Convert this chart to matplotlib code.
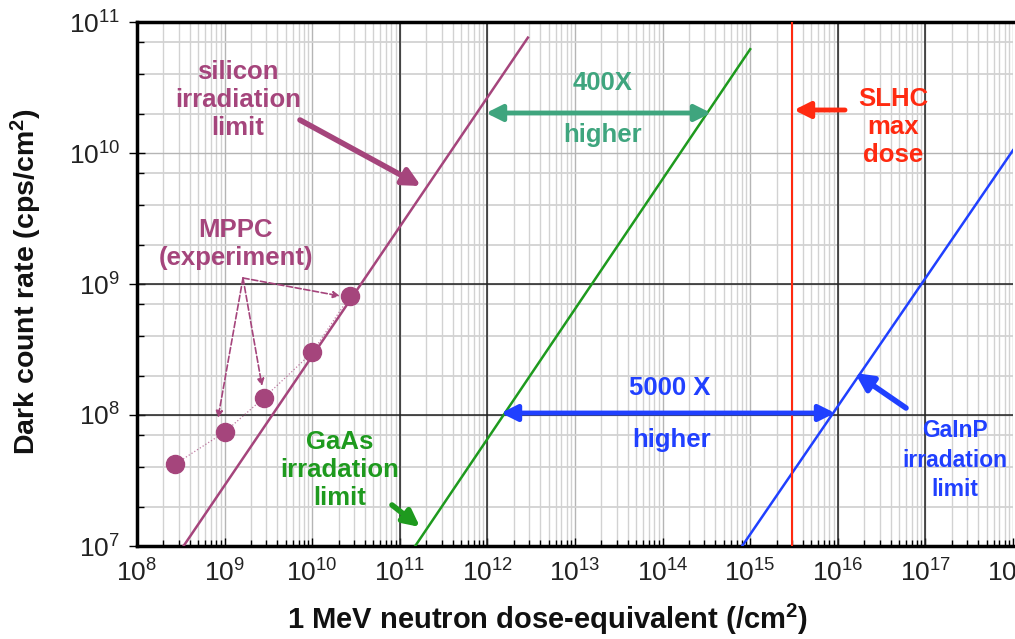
import numpy as np
import matplotlib
matplotlib.use('Agg')
import matplotlib.pyplot as plt
from matplotlib import font_manager
from matplotlib.ticker import LogLocator, FuncFormatter, NullFormatter, FixedLocator

names = {f.name for f in font_manager.fontManager.ttflist}
base = 'Liberation Sans' if 'Liberation Sans' in names else 'DejaVu Sans'
plt.rcParams['font.family'] = [base, 'DejaVu Sans']
plt.rcParams['mathtext.fontset'] = 'custom'
plt.rcParams['mathtext.rm'] = base
plt.rcParams['mathtext.bf'] = base + ':bold'

# ---------------- data ----------------
si_dose = [3.4e8, 2.9e12]
si_rate = [1.0e7, 7.6e10]
gaas_dose = [1.5e11, 1.0e15]
gaas_rate = [1.0e7, 6.2e10]
gainp_dose = [8.1e14, 1.0e18]
gainp_rate = [1.0e7, 1.05e10]
slhc_dose = 3.0e15
mppc_dose = [2.7e8, 1.0e9, 2.8e9, 1.0e10, 2.7e10]
mppc_rate = [4.2e7, 7.4e7, 1.35e8, 3.0e8, 8.1e8]
x_decades = list(range(8, 19))
y_decades = list(range(7, 12))

# ---------------- colours ----------------
c_si = '#A5457C'
c_gaas = '#1E9A1E'
c_teal = '#3FA57E'
c_blue = '#2040FF'
c_red = '#FF2A10'

fig = plt.figure(figsize=(10.15, 6.39), dpi=100)
ax = fig.add_axes([137/1015, 1-546/639, 876/1015, 524/639])
ax.set_xscale('log')
ax.set_yscale('log')
ax.set_xlim(1e8, 1e18)
ax.set_ylim(1e7, 1e11)

# grid
ax.xaxis.set_major_locator(FixedLocator([10.0**d for d in x_decades]))
ax.yaxis.set_major_locator(FixedLocator([10.0**d for d in y_decades]))
ax.xaxis.set_minor_locator(LogLocator(base=10, subs=np.arange(2, 10), numticks=40))
ax.yaxis.set_minor_locator(LogLocator(base=10, subs=[2, 4, 7], numticks=40))
ax.grid(which='minor', axis='x', color='#d2d2d2', lw=1.0)
ax.grid(which='minor', axis='y', color='#d2d2d2', lw=1.3)
ax.grid(which='major', color='#b5b5b5', lw=1.0)
for xv in [1e11, 1e12, 1e16, 1e17]:
    ax.axvline(xv, color='#222222', lw=1.1, zorder=1)
for yv in [1e8, 1e9]:
    ax.axhline(yv, color='#222222', lw=1.1, zorder=1)
ax.set_axisbelow(True)

fmt = FuncFormatter(lambda v, p: r'$\mathregular{10^{%d}}$' % int(round(np.log10(v))))
ax.xaxis.set_major_formatter(fmt)
ax.yaxis.set_major_formatter(fmt)
ax.xaxis.set_minor_formatter(NullFormatter())
ax.yaxis.set_minor_formatter(NullFormatter())
ax.tick_params(axis='x', which='major', direction='in', length=6, width=1, pad=10,
               labelsize=19, labelcolor='#222222')
ax.tick_params(axis='x', which='minor', direction='in', length=4, width=1)
ax.tick_params(axis='y', which='major', direction='inout', length=12, width=1, pad=6,
               labelsize=19, labelcolor='#222222')
ax.tick_params(axis='y', which='minor', direction='in', length=5, width=1)

for s in ['left', 'bottom', 'top']:
    ax.spines[s].set_linewidth(2.5)
    ax.spines[s].set_color('black')
ax.spines['right'].set_visible(False)

# lines
ax.plot(si_dose, si_rate, color=c_si, lw=1.8, zorder=3)
ax.plot(gaas_dose, gaas_rate, color=c_gaas, lw=1.8, zorder=3)
ax.plot(gainp_dose, gainp_rate, color=c_blue, lw=1.8, zorder=3)
ax.axvline(slhc_dose, color=c_red, lw=1.5, zorder=3)
ax.plot(mppc_dose, mppc_rate, ':', color=c_si, lw=0.9, alpha=0.7, zorder=3)
ax.plot(mppc_dose, mppc_rate, 'o', color=c_si, ms=13, zorder=4, mec=c_si)

ax.set_xlabel('1 MeV neutron dose-equivalent (/cm$\\mathbf{^2}$)', fontsize=21, fontweight='bold',
              color='#111111')
ax.set_ylabel('Dark count rate (cps/cm$\\mathbf{^2}$)', fontsize=20.5, fontweight='bold',
              color='#111111')
ax.xaxis.set_label_coords((548-137)/876, (546-602)/524)
ax.yaxis.set_label_coords((44-137)/876, (546-282)/524)

def P(px, py):
    return (10**(8 + (px-137)/87.6), 10**(7 + (546-py)/131.0))

tk = dict(fontsize=18.5, fontweight='bold', ha='center', va='center')
ax.text(*P(238, 100), 'silicon\nirradiation\nlimit', color=c_si, **tk)
ax.text(*P(236, 244), 'MPPC\n(experiment)', color=c_si, **tk)
ax.text(*P(603, 83), '400X', color=c_teal, **tk)
ax.text(*P(603, 135), 'higher', color=c_teal, **tk)
ax.text(*P(893, 127), 'SLHC\nmax\ndose', color=c_red, **tk)
ax.text(*P(670, 388), '5000 X', color=c_blue, **tk)
ax.text(*P(672, 440), 'higher', color=c_blue, **tk)
ax.text(*P(955, 460), 'GaInP\nirradation\nlimit', color=c_blue, fontsize=16.5,
        fontweight='bold', ha='center', va='center', linespacing=1.35)
ax.text(*P(340, 470), 'GaAs\nirradation\nlimit', color=c_gaas, **tk)

def arrow(tail, tip, color, lw, style='-|>', ms=22, ls='-'):
    ax.annotate('', xy=P(*tip), xytext=P(*tail),
                arrowprops=dict(arrowstyle=style, color=color, lw=lw, ls=ls,
                                mutation_scale=ms, shrinkA=0, shrinkB=0), zorder=5)

arrow((300, 120), (421, 186), c_si, 4.0, ms=26)
arrow((486, 113), (711, 113), c_teal, 3.5, style='<|-|>', ms=24)
arrow((501, 413), (835, 413), c_blue, 3.5, style='<|-|>', ms=24)
arrow((845, 110), (794, 110), c_red, 3.5, ms=24)
arrow((906, 408), (855, 373), c_blue, 4.0, ms=26)
arrow((392, 505), (420, 527), c_gaas, 4.0, ms=24)
arrow((243, 278), (218, 418), c_si, 1.2, ms=10, ls='--')
arrow((243, 278), (262, 386), c_si, 1.2, ms=10, ls='--')
arrow((243, 278), (340, 296), c_si, 1.2, ms=10, ls='--')

fig.savefig('out.png', dpi=100)
